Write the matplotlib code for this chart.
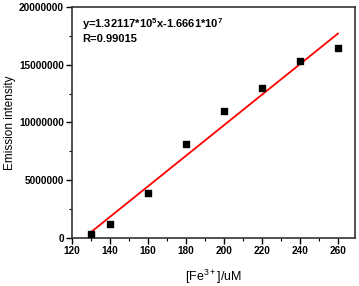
import numpy as np
import matplotlib.pyplot as plt
from matplotlib.ticker import MultipleLocator, FormatStrFormatter

conc = [130, 140, 160, 180, 200, 220, 240, 260]
intensity = [370000, 1190000, 3900000, 8150000, 11000000, 12950000, 15300000, 16400000]
slope = 1.32117e5
intercept = -1.6661e7
fit_x = [130, 260]

plt.rcParams['font.family'] = ['Liberation Sans', 'DejaVu Sans']
plt.rcParams['mathtext.fontset'] = 'custom'
plt.rcParams['mathtext.rm'] = 'Liberation Sans'
plt.rcParams['mathtext.bf'] = 'Liberation Sans:bold'

fig = plt.figure(figsize=(3.59, 2.86), dpi=100)
ax = fig.add_axes([0.201, 0.168, 0.788, 0.808])

ax.scatter(conc, intensity, marker='s', s=14, color='black', zorder=3)
fx = np.array(fit_x)
ax.plot(fx, slope * fx + intercept, color='red', lw=1.3, zorder=2)

ax.set_xlim(120, 269)
ax.set_ylim(0, 20000000)
ax.xaxis.set_major_locator(MultipleLocator(20))
ax.xaxis.set_minor_locator(MultipleLocator(10))
ax.yaxis.set_major_locator(MultipleLocator(5000000))
ax.yaxis.set_minor_locator(MultipleLocator(2500000))
ax.yaxis.set_major_formatter(FormatStrFormatter('%d'))
ax.tick_params(which='major', direction='out', length=4, width=1, labelsize=7.2, pad=2)
ax.tick_params(which='minor', direction='out', length=2, width=0.8)
for lbl in ax.get_xticklabels() + ax.get_yticklabels():
    lbl.set_fontweight('bold')
for sp in ax.spines.values():
    sp.set_linewidth(1.2)
    sp.set_color('#333333')

ax.set_xlabel('[Fe$^{\\mathrm{3+}}$]/uM', fontsize=9, labelpad=8)
ax.set_ylabel('Emission intensity', fontsize=8.5, labelpad=2)

ax.text(0.035, 0.96, 'y=1.32117*10$^{\\mathbf{5}}$x-1.6661*10$^{\\mathbf{7}}$\nR=0.99015',
        transform=ax.transAxes, fontsize=8, fontweight='bold', va='top', ha='left',
        linespacing=1.25)

fig.savefig('out.png', dpi=100)
